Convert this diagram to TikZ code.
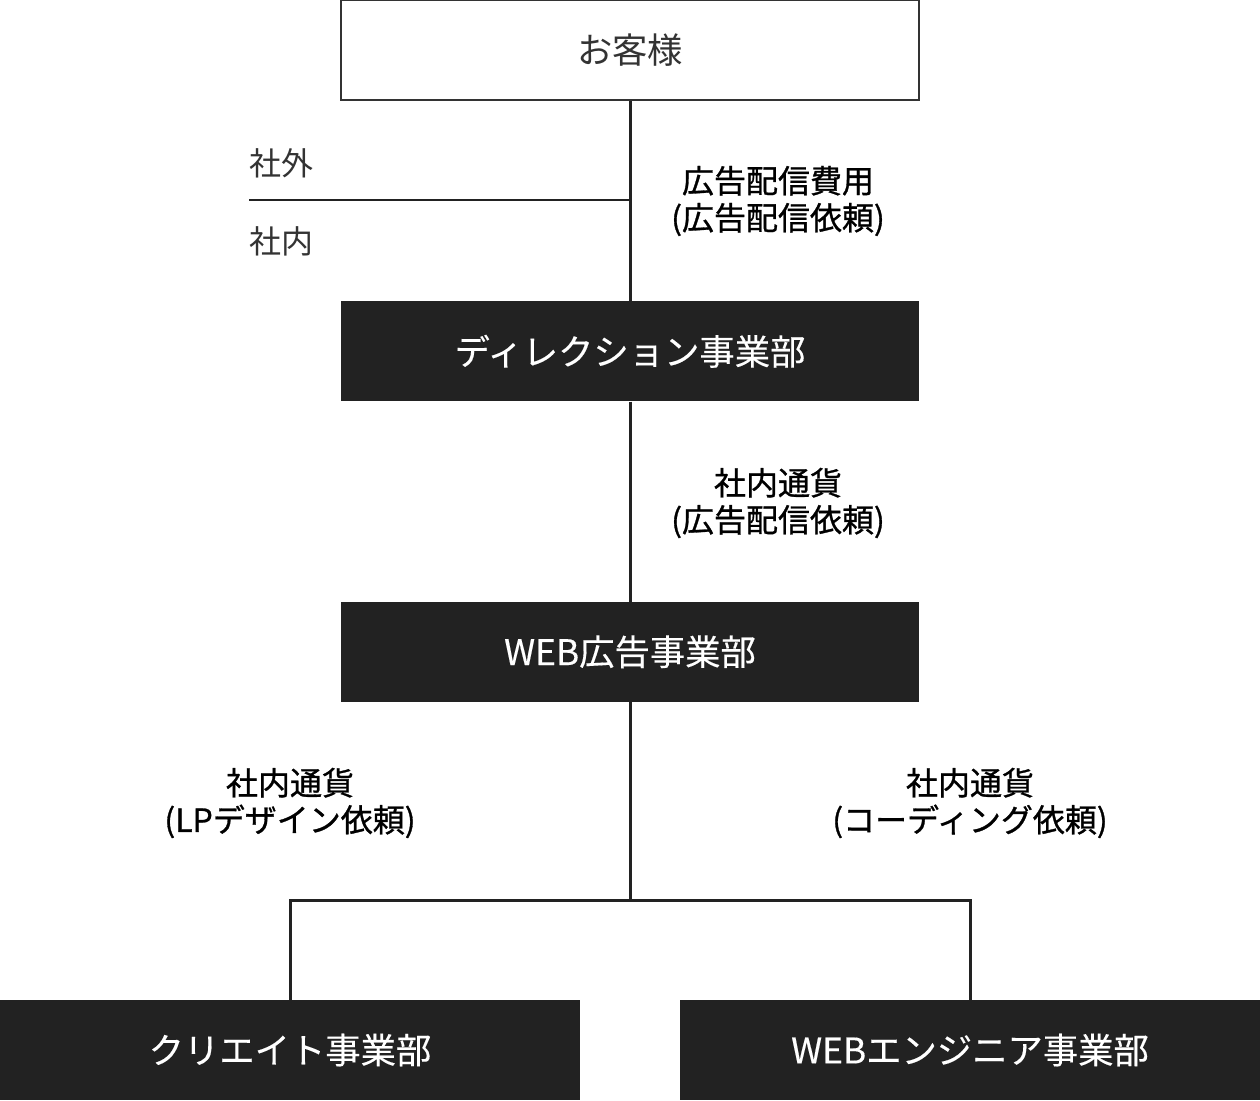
\documentclass[tikz,border=0pt]{standalone}
\usepackage{fontspec}
\setmainfont{Noto Sans CJK JP}
\newfontfamily\mediumfont{Noto Sans CJK JP}[FakeBold=0.9]
\newfontfamily\unitfont{Noto Sans CJK JP}[FakeBold=0.3]
\usetikzlibrary{positioning}
\definecolor{boxdark}{HTML}{222222}
\definecolor{textgray}{HTML}{333333}

\begin{document}
\begin{tikzpicture}[
    x=0.75pt, y=-0.75pt,
    node distance=150pt,
    unit/.style={rectangle, fill=boxdark, text=white, minimum width=433.5pt, minimum height=75pt, inner sep=0pt, font=\unitfont\fontsize{26.5}{30}\selectfont},
    client/.style={unit, fill=white, draw=textgray, line width=1.5pt, text=textgray, font=\fontsize{26.5}{30}\selectfont},
    side/.style={anchor=west, inner sep=0pt, text=textgray, font=\fontsize{24}{28}\selectfont},
    money/.style={align=center, inner sep=0pt, font=\mediumfont\fontsize{24}{27.75}\selectfont},
    flow/.style={draw=boxdark, line width=2.25pt, line join=miter}
]
    \fill[white] (0,0) rectangle (1260,1100);
    \useasboundingbox (0,0) rectangle (1260,1100);

    \node[client] (client) at (630,50) {お客様};
    \node[unit, below=of client] (direction) {ディレクション事業部};
    \node[unit, below=of direction] (webad) {WEB広告事業部};
    \node[unit, minimum width=435pt] (creative) at (290,1050) {クリエイト事業部};
    \node[unit, minimum width=435pt] (engineer) at (970,1050) {WEBエンジニア事業部};

    % boundary outside / inside
    \node[side] (outside) at (249,163) {社外};
    \node[side] (inside) at (249,241) {社内};
    \coordinate (border) at (249,200);
    \draw[draw=boxdark, line width=1.5pt] (border) -- (border -| client);

    % money flow
    \node[money] (fee) at (778,201) {広告配信費用\\(広告配信依頼)};
    \node[money] (adorder) at (778,503) {社内通貨\\(広告配信依頼)};
    \node[money] (lporder) at (290,803) {社内通貨\\(LPデザイン依頼)};
    \node[money] (codeorder) at (970,803) {社内通貨\\(コーディング依頼)};

    \coordinate (fork) at (630,900);
    \draw[flow] (client) -- (direction);
    \draw[flow] (direction) -- (webad);
    \draw[flow] (webad) -- (fork);
    \draw[flow] (creative.north) |- (fork) -| (engineer.north);
\end{tikzpicture}
\end{document}
